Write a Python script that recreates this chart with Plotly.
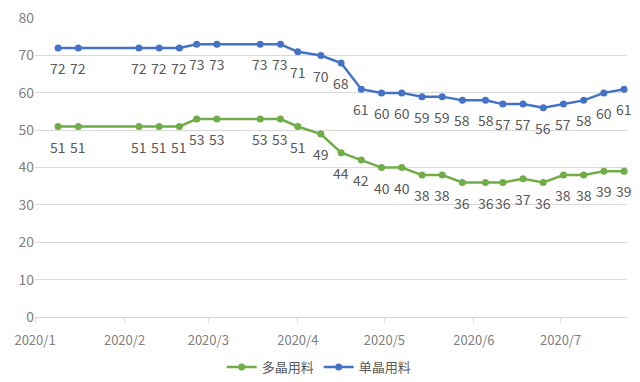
import plotly.graph_objects as go

dates = ["2020-01-09", "2020-01-16", "2020-02-06", "2020-02-13", "2020-02-20",
         "2020-02-26", "2020-03-04", "2020-03-19", "2020-03-26", "2020-04-01",
         "2020-04-09", "2020-04-16", "2020-04-23", "2020-04-30", "2020-05-07",
         "2020-05-14", "2020-05-21", "2020-05-28", "2020-06-05", "2020-06-11",
         "2020-06-18", "2020-06-25", "2020-07-02", "2020-07-09", "2020-07-16",
         "2020-07-23"]
poly = [51, 51, 51, 51, 51, 53, 53, 53, 53, 51, 49, 44, 42, 40, 40, 38, 38,
        36, 36, 36, 37, 36, 38, 38, 39, 39]
mono = [72, 72, 72, 72, 72, 73, 73, 73, 73, 71, 70, 68, 61, 60, 60, 59, 59,
        58, 58, 57, 57, 56, 57, 58, 60, 61]
y_ticks = [0, 10, 20, 30, 40, 50, 60, 70, 80]
tick_vals = ["2020-01-01", "2020-02-01", "2020-03-01", "2020-04-01",
             "2020-05-01", "2020-06-01", "2020-07-01"]
tick_text = ["2020/1", "2020/2", "2020/3", "2020/4", "2020/5", "2020/6", "2020/7"]

FONT = "Noto Sans CJK SC"
fig = go.Figure()
annotations = []
for name, vals, color in [("多晶用料", poly, "#70AD47"), ("单晶用料", mono, "#4472C4")]:
    fig.add_trace(go.Scatter(
        x=dates, y=vals, name=name, mode="lines+markers",
        line=dict(color=color, width=2.5), marker=dict(color=color, size=7),
        cliponaxis=False,
    ))
    for d, v in zip(dates, vals):
        annotations.append(dict(
            x=d, y=v, text=str(v), showarrow=False, yshift=-20,
            font=dict(color="#595959", size=14, family=FONT),
        ))

# the page body adds an 8px offset: figure is sized/offset to compensate
fig.update_layout(
    width=632, height=374,
    margin=dict(l=27, r=13, t=10, b=65),
    paper_bgcolor="white", plot_bgcolor="white",
    font=dict(family=FONT, color="#7f7f7f", size=13),
    showlegend=True,
    annotations=annotations,
    legend=dict(orientation="h", x=0.48, xanchor="center",
                yref="container", y=0.04, yanchor="middle",
                font=dict(size=13, color="#595959")),
    xaxis=dict(type="date", range=["2020-01-01", "2020-07-24"],
               tickvals=tick_vals, ticktext=tick_text, automargin=False,
               showgrid=False, showline=True, linecolor="#d9d9d9",
               ticks="outside", tickcolor="#d9d9d9", ticklen=5,
               ticklabelstandoff=6,
               tickfont=dict(size=13, color="#7f7f7f")),
    yaxis=dict(range=[0, 80.05], tickmode="array", tickvals=y_ticks,
               showgrid=True, gridcolor="#d9d9d9", ticklabeloverflow="allow",
               zeroline=False, showline=False, ticks="", automargin=False,
               tickfont=dict(size=14, color="#7f7f7f")),
)
fig.write_html("out.html")
